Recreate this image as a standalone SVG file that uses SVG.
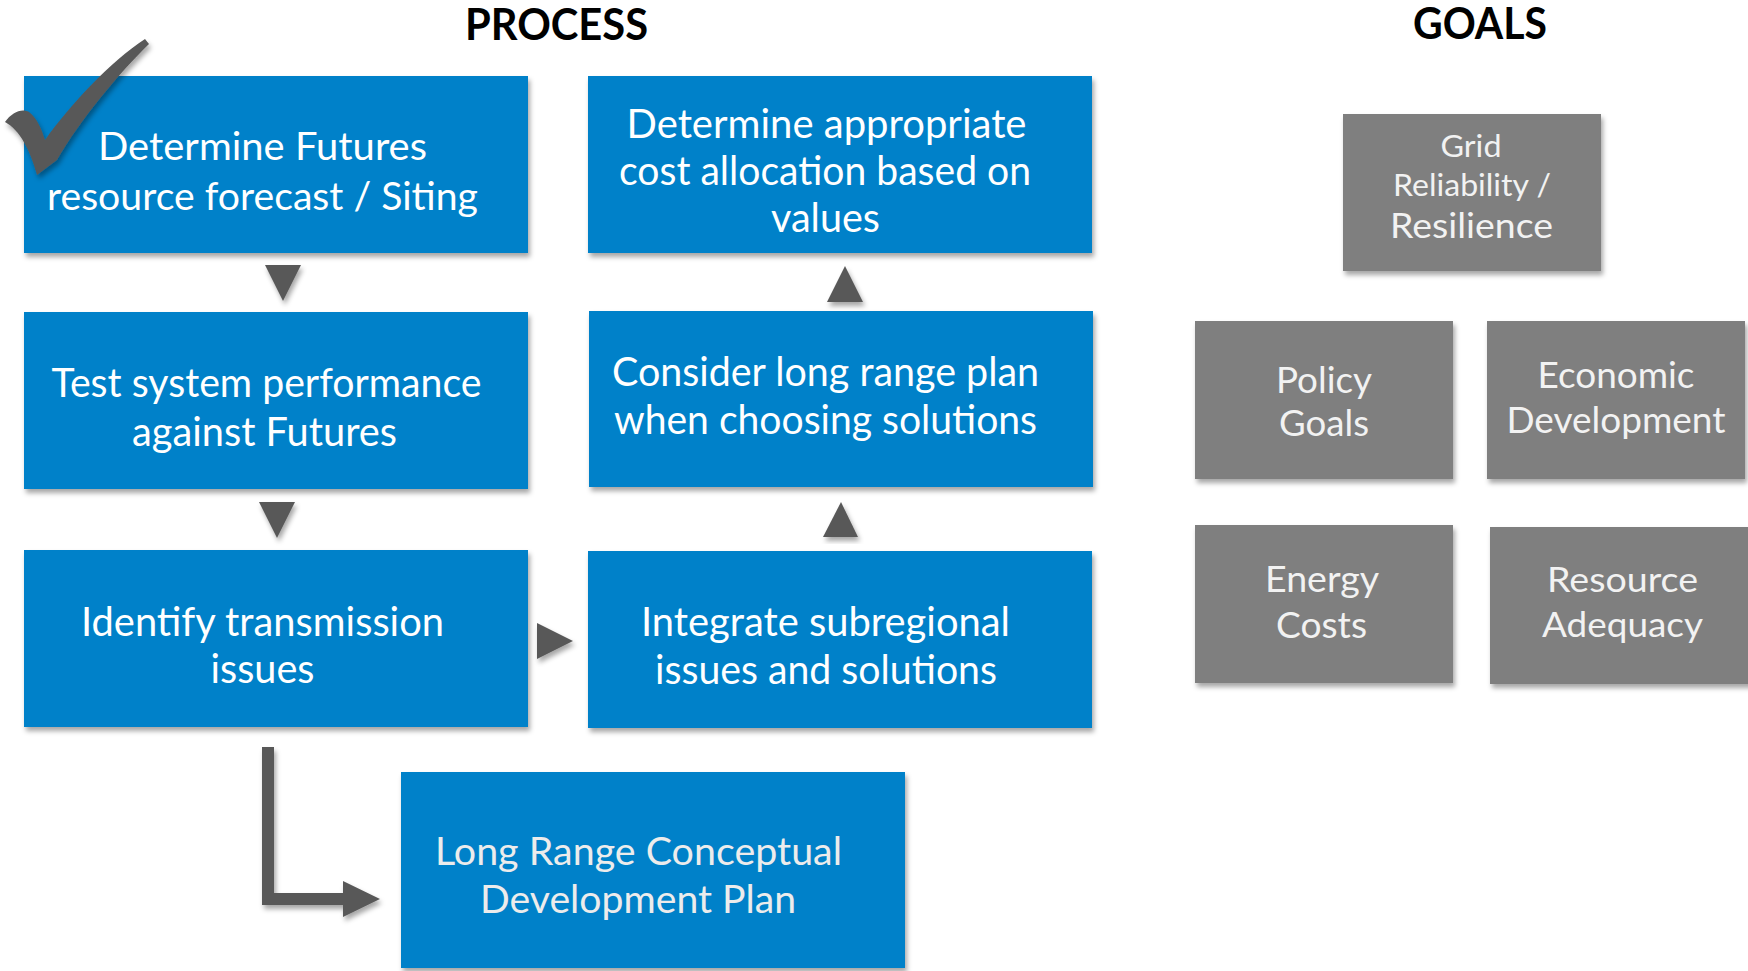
<svg xmlns="http://www.w3.org/2000/svg" width="1748" height="971" viewBox="0 0 1748 971">
<defs>
<filter id="sh" x="-10%" y="-10%" width="125%" height="130%">
<feDropShadow dx="2" dy="4" stdDeviation="2.5" flood-color="#000" flood-opacity="0.35"/>
</filter>
<style>
.blue{fill:#0181c9;filter:url(#sh)}
.gray{fill:#7f7f7f;filter:url(#sh)}
.arr{fill:#595959;filter:url(#sh)}
text{font-family:Lato,"Open Sans","Liberation Sans",sans-serif}
.t{fill:#ffffff;font-size:40px;text-anchor:middle}
.tl{fill:#ececec;font-size:39px;text-anchor:middle}
.g{fill:#f2f2f2;text-anchor:middle}
.h{fill:#000;font-weight:bold;font-size:43px;text-anchor:middle}
</style>
</defs>
<rect width="1748" height="971" fill="#fff"/>
<text class="h" x="556.5" y="40" textLength="183" lengthAdjust="spacingAndGlyphs">PROCESS</text>
<text class="h" x="1480" y="39" textLength="134" lengthAdjust="spacingAndGlyphs">GOALS</text>

<g id="connectors">
<polygon class="arr" points="265,265 301,265 283,301"/>
<polygon class="arr" points="259,502 295,502 277,538"/>
<polygon class="arr" points="537,623 573,641 537,659"/>
<polygon class="arr" points="827,302 863,302 845,266"/>
<polygon class="arr" points="823,537 858,537 841,502"/>
<path class="arr" d="M262,747 H274 V893 H343 V881 L380,899 L343,917 V905 H262 Z"/>
</g>

<g id="n1">
<rect class="blue" x="24" y="76" width="504" height="177"/>
<text class="t" x="262.5" y="160" textLength="329" lengthAdjust="spacingAndGlyphs" style="font-size:38px">Determine Futures</text>
<text class="t" x="262.5" y="210" textLength="431" lengthAdjust="spacingAndGlyphs" style="font-size:38px">resource forecast / Siting</text>
</g>
<g id="check">
<path fill="#595959" d="M145,39 L149,44 C120,72 80,120 57,160 L37,175 C30,150 20,130 5,122 C12,112 22,108 29,112 C37,118 42,130 45,140 C70,105 110,62 145,39 Z" filter="url(#sh)"/>
</g>
<g id="n2">
<rect class="blue" x="24" y="312" width="504" height="177"/>
<text class="t" x="266.5" y="397" textLength="430" lengthAdjust="spacingAndGlyphs">Test system performance</text>
<text class="t" x="264.5" y="446" textLength="265" lengthAdjust="spacingAndGlyphs">against Futures</text>
</g>
<g id="n3">
<rect class="blue" x="24" y="550" width="504" height="177"/>
<text class="t" x="262.5" y="636" textLength="363" lengthAdjust="spacingAndGlyphs">Identify transmission</text>
<text class="t" x="262.5" y="683" textLength="104" lengthAdjust="spacingAndGlyphs">issues</text>
</g>
<g id="n4">
<rect class="blue" x="588" y="76" width="504" height="177"/>
<text class="t" x="826.5" y="138" textLength="400" lengthAdjust="spacingAndGlyphs">Determine appropriate</text>
<text class="t" x="825" y="185" textLength="412" lengthAdjust="spacingAndGlyphs">cost allocation based on</text>
<text class="t" x="825.5" y="232" textLength="109" lengthAdjust="spacingAndGlyphs">values</text>
</g>
<g id="n5">
<rect class="blue" x="589" y="311" width="504" height="176"/>
<text class="t" x="825.5" y="386" textLength="427" lengthAdjust="spacingAndGlyphs">Consider long range plan</text>
<text class="t" x="825.5" y="434" textLength="423" lengthAdjust="spacingAndGlyphs">when choosing solutions</text>
</g>
<g id="n6">
<rect class="blue" x="588" y="551" width="504" height="177"/>
<text class="t" x="825.5" y="636" textLength="369" lengthAdjust="spacingAndGlyphs">Integrate subregional</text>
<text class="t" x="826" y="684" textLength="342" lengthAdjust="spacingAndGlyphs">issues and solutions</text>
</g>
<g id="n7">
<rect class="blue" x="401" y="772" width="504" height="196"/>
<text class="tl" x="638.5" y="865" textLength="407" lengthAdjust="spacingAndGlyphs">Long Range Conceptual</text>
<text class="tl" x="638" y="913" textLength="316" lengthAdjust="spacingAndGlyphs">Development Plan</text>
</g>

<g id="goal-grid">
<rect class="gray" x="1343" y="114" width="258" height="157"/>
<text class="g" x="1471" y="157" textLength="61" lengthAdjust="spacingAndGlyphs" style="font-size:30px">Grid</text>
<text class="g" x="1472" y="196" textLength="158" lengthAdjust="spacingAndGlyphs" style="font-size:30px">Reliability /</text>
<text class="g" x="1471.5" y="238" textLength="163" lengthAdjust="spacingAndGlyphs" style="font-size:35px">Resilience</text>
</g>
<g id="goal-policy">
<rect class="gray" x="1195" y="321" width="258" height="158"/>
<text class="g" x="1324" y="393" textLength="96" lengthAdjust="spacingAndGlyphs" style="font-size:37px">Policy</text>
<text class="g" x="1324" y="436" textLength="90" lengthAdjust="spacingAndGlyphs" style="font-size:37px">Goals</text>
</g>
<g id="goal-economic">
<rect class="gray" x="1487" y="321" width="258" height="158"/>
<text class="g" x="1616" y="388" textLength="157" lengthAdjust="spacingAndGlyphs" style="font-size:37px">Economic</text>
<text class="g" x="1616" y="433" textLength="219" lengthAdjust="spacingAndGlyphs" style="font-size:37px">Development</text>
</g>
<g id="goal-energy">
<rect class="gray" x="1195" y="525" width="258" height="158"/>
<text class="g" x="1322" y="592" textLength="114" lengthAdjust="spacingAndGlyphs" style="font-size:37px">Energy</text>
<text class="g" x="1321.5" y="638" textLength="91" lengthAdjust="spacingAndGlyphs" style="font-size:37px">Costs</text>
</g>
<g id="goal-resource">
<rect class="gray" x="1490" y="527" width="262" height="157"/>
<text class="g" x="1622.5" y="592" textLength="151" lengthAdjust="spacingAndGlyphs" style="font-size:35px">Resource</text>
<text class="g" x="1622.5" y="637" textLength="161" lengthAdjust="spacingAndGlyphs" style="font-size:35px">Adequacy</text>
</g>
</svg>
